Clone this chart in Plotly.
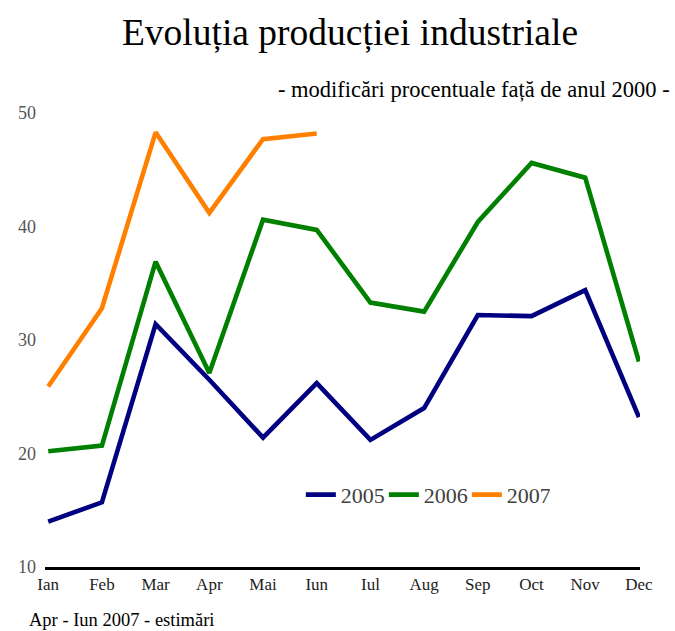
import plotly.graph_objects as go

months = ["Ian", "Feb", "Mar", "Apr", "Mai", "Iun", "Iul", "Aug", "Sep", "Oct", "Nov", "Dec"]
y2005 = [14.0, 15.7, 31.4, 26.5, 21.4, 26.2, 21.2, 24.0, 32.2, 32.1, 34.4, 23.2]
y2006 = [20.2, 20.7, 36.9, 27.1, 40.6, 39.7, 33.3, 32.5, 40.4, 45.6, 44.3, 28.1]
y2007 = [25.9, 32.8, 48.3, 41.2, 47.7, 48.2]
y_ticks = [10, 20, 30, 40, 50]

FONT = "Liberation Serif"
fig = go.Figure()
for name, ys, col in [("2005", y2005, "#000080"), ("2006", y2006, "#008000"), ("2007", y2007, "#FF8000")]:
    fig.add_trace(go.Scatter(x=list(range(len(ys))), y=ys, mode="lines", name=name,
                             line=dict(color=col, width=4.6), cliponaxis=False))

fig.update_layout(
    width=675, height=631,
    paper_bgcolor="white", plot_bgcolor="white",
    margin=dict(l=45, r=35, t=113, b=64),
    font=dict(family=FONT, color="#000000"),
    title=dict(text="Evoluția producției industriale", x=350 / 675, xanchor="center",
               y=1 - 32 / 631, yanchor="middle", font=dict(size=37.5, family=FONT, color="black")),
    showlegend=True,
    legend=dict(orientation="h", x=0.43, xanchor="left", y=0.159, yanchor="middle",
                font=dict(size=22, family=FONT, color="#404040"), bgcolor="rgba(0,0,0,0)",
                itemwidth=30, entrywidth=38, entrywidthmode="pixels", tracegroupgap=0),
    xaxis=dict(range=[-0.06, 11.02], tickmode="array", tickvals=list(range(12)), ticktext=months,
               showgrid=False, zeroline=False, showline=True, linecolor="black", linewidth=3,
               ticks="", tickfont=dict(size=17, family=FONT, color="#222222")),
    yaxis=dict(range=[10, 50], tickmode="array", tickvals=y_ticks, showgrid=False, zeroline=False,
               showline=False, ticks="", ticklabelstandoff=8,
               tickfont=dict(size=18, family=FONT, color="#555555")),
    annotations=[
        dict(text="- modificări procentuale față de anul 2000 -", xref="paper", yref="paper",
             x=(672 - 45) / 595, xanchor="right", y=(567 - 90) / 454, yanchor="middle",
             showarrow=False, font=dict(size=22.5, family=FONT, color="black")),
        dict(text="Apr - Iun 2007 - estimări", xref="paper", yref="paper",
             x=(27 - 45) / 595, xanchor="left", y=(567 - 620) / 454, yanchor="middle",
             showarrow=False, font=dict(size=18.5, family=FONT, color="black")),
    ],
)
fig.write_html("out.html", config={"displayModeBar": False},
               post_script="document.body.style.margin='0';document.body.style.overflow='hidden';")
